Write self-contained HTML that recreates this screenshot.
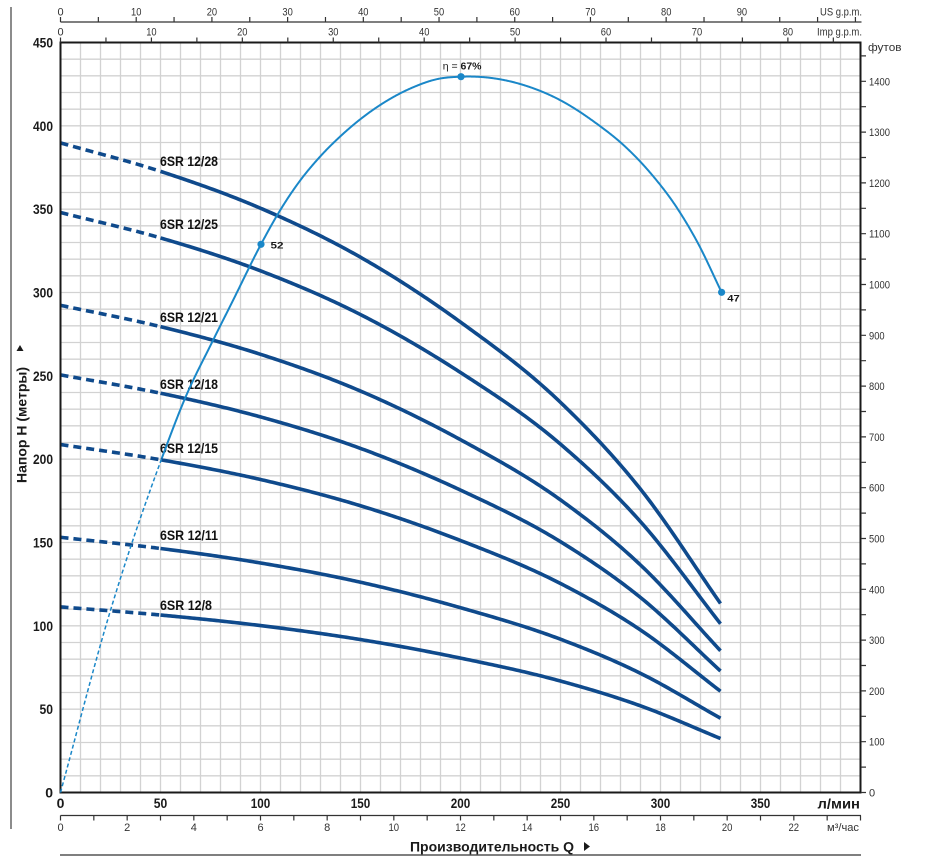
<!DOCTYPE html>
<html><head><meta charset="utf-8"><style>
html,body{margin:0;padding:0;background:#fff;width:934px;height:859px;overflow:hidden}
svg{display:block}
.t{font-family:"Liberation Sans",Arial,sans-serif;fill:#333;font-size:11px}
.b{font-family:"Liberation Sans",Arial,sans-serif;fill:#1a1a1a;font-size:14px;font-weight:bold}
.lb{font-family:"Liberation Sans",Arial,sans-serif;fill:#111;font-size:13.5px;font-weight:bold}
</style></head><body>
<svg id="c" width="934" height="859" viewBox="0 0 934 859" xmlns="http://www.w3.org/2000/svg">
<rect width="934" height="859" fill="#fff"/>
<!-- grid -->
<path stroke="#d2d2d2" stroke-width="1.3" fill="none" d="
M80.5 42.5V792.5M100.5 42.5V792.5M120.5 42.5V792.5M140.5 42.5V792.5M160.5 42.5V792.5M180.5 42.5V792.5M200.5 42.5V792.5M220.5 42.5V792.5M240.5 42.5V792.5M260.5 42.5V792.5
M280.5 42.5V792.5M300.5 42.5V792.5M320.5 42.5V792.5M340.5 42.5V792.5M360.5 42.5V792.5M380.5 42.5V792.5M400.5 42.5V792.5M420.5 42.5V792.5M440.5 42.5V792.5M460.5 42.5V792.5
M480.5 42.5V792.5M500.5 42.5V792.5M520.5 42.5V792.5M540.5 42.5V792.5M560.5 42.5V792.5M580.5 42.5V792.5M600.5 42.5V792.5M620.5 42.5V792.5M640.5 42.5V792.5M660.5 42.5V792.5
M680.5 42.5V792.5M700.5 42.5V792.5M720.5 42.5V792.5M740.5 42.5V792.5M760.5 42.5V792.5M780.5 42.5V792.5M800.5 42.5V792.5M820.5 42.5V792.5M840.5 42.5V792.5
M60.5 59.17H860.5M60.5 75.83H860.5M60.5 92.5H860.5M60.5 109.17H860.5M60.5 125.83H860.5M60.5 142.5H860.5M60.5 159.17H860.5M60.5 175.83H860.5M60.5 192.5H860.5M60.5 209.17H860.5
M60.5 225.83H860.5M60.5 242.5H860.5M60.5 259.17H860.5M60.5 275.83H860.5M60.5 292.5H860.5M60.5 309.17H860.5M60.5 325.83H860.5M60.5 342.5H860.5M60.5 359.17H860.5M60.5 375.83H860.5
M60.5 392.5H860.5M60.5 409.17H860.5M60.5 425.83H860.5M60.5 442.5H860.5M60.5 459.17H860.5M60.5 475.83H860.5M60.5 492.5H860.5M60.5 509.17H860.5M60.5 525.83H860.5M60.5 542.5H860.5
M60.5 559.17H860.5M60.5 575.83H860.5M60.5 592.5H860.5M60.5 609.17H860.5M60.5 625.83H860.5M60.5 642.5H860.5M60.5 659.17H860.5M60.5 675.83H860.5M60.5 692.5H860.5M60.5 709.17H860.5
M60.5 725.83H860.5M60.5 742.5H860.5M60.5 759.17H860.5M60.5 775.83H860.5"/>

<!-- left outer line -->
<path d="M11 7V829" stroke="#666" stroke-width="1.5"/>

<!-- curves container -->
<g id="curves"></g>

<!-- frame -->
<rect x="60.5" y="42.5" width="800" height="750" fill="none" stroke="#1a1a1a" stroke-width="2"/>

<!-- top US axis -->
<path stroke="#333" stroke-width="1.2" fill="none" d="M60.5 22H861.5
M60.5 17V22M98.35 17V22M136.21 17V22M174.06 17V22M211.92 17V22M249.77 17V22M287.62 17V22M325.48 17V22M363.33 17V22M401.19 17V22M439.04 17V22M476.89 17V22M514.75 17V22M552.6 17V22M590.46 17V22M628.31 17V22M666.16 17V22M704.02 17V22M741.87 17V22M779.73 17V22M817.58 17V22M855.43 17V22"/>
<g class="t" text-anchor="middle">
<text x="60.5" y="15.5">0</text>
<text x="136.2" y="15.5" textLength="10.4" lengthAdjust="spacingAndGlyphs">10</text>
<text x="211.9" y="15.5" textLength="10.4" lengthAdjust="spacingAndGlyphs">20</text>
<text x="287.6" y="15.5" textLength="10.4" lengthAdjust="spacingAndGlyphs">30</text>
<text x="363.3" y="15.5" textLength="10.4" lengthAdjust="spacingAndGlyphs">40</text>
<text x="439.0" y="15.5" textLength="10.4" lengthAdjust="spacingAndGlyphs">50</text>
<text x="514.7" y="15.5" textLength="10.4" lengthAdjust="spacingAndGlyphs">60</text>
<text x="590.5" y="15.5" textLength="10.4" lengthAdjust="spacingAndGlyphs">70</text>
<text x="666.2" y="15.5" textLength="10.4" lengthAdjust="spacingAndGlyphs">80</text>
<text x="741.9" y="15.5" textLength="10.4" lengthAdjust="spacingAndGlyphs">90</text>
</g>
<text class="t" x="820" y="15.5" textLength="42" lengthAdjust="spacingAndGlyphs">US g.p.m.</text>

<!-- top Imp axis -->
<path stroke="#333" stroke-width="1.2" fill="none" d="
M60.5 37.5V42.5M105.96 37.5V42.5M151.42 37.5V42.5M196.88 37.5V42.5M242.34 37.5V42.5M287.81 37.5V42.5M333.27 37.5V42.5M378.73 37.5V42.5M424.19 37.5V42.5M469.65 37.5V42.5M515.11 37.5V42.5M560.57 37.5V42.5M606.03 37.5V42.5M651.49 37.5V42.5M696.95 37.5V42.5M742.42 37.5V42.5M787.88 37.5V42.5M833.34 37.5V42.5"/>
<g class="t" text-anchor="middle">
<text x="60.5" y="35.5">0</text>
<text x="151.4" y="35.5" textLength="10.4" lengthAdjust="spacingAndGlyphs">10</text>
<text x="242.3" y="35.5" textLength="10.4" lengthAdjust="spacingAndGlyphs">20</text>
<text x="333.3" y="35.5" textLength="10.4" lengthAdjust="spacingAndGlyphs">30</text>
<text x="424.2" y="35.5" textLength="10.4" lengthAdjust="spacingAndGlyphs">40</text>
<text x="515.1" y="35.5" textLength="10.4" lengthAdjust="spacingAndGlyphs">50</text>
<text x="606.0" y="35.5" textLength="10.4" lengthAdjust="spacingAndGlyphs">60</text>
<text x="697.0" y="35.5" textLength="10.4" lengthAdjust="spacingAndGlyphs">70</text>
<text x="787.9" y="35.5" textLength="10.4" lengthAdjust="spacingAndGlyphs">80</text>
</g>
<text class="t" x="817" y="35.5" textLength="45" lengthAdjust="spacingAndGlyphs">Imp g.p.m.</text>

<!-- right feet axis -->
<path stroke="#333" stroke-width="1.2" fill="none" d="
M861 792.5H866M861 767.1H866M861 741.7H866M861 716.3H866M861 690.9H866M861 665.5H866M861 640.1H866M861 614.7H866M861 589.3H866M861 563.9H866
M861 538.5H866M861 513.1H866M861 487.7H866M861 462.3H866M861 436.9H866M861 411.5H866M861 386.1H866M861 360.7H866M861 335.3H866M861 309.9H866
M861 284.5H866M861 259.1H866M861 233.7H866M861 208.3H866M861 182.9H866M861 157.5H866M861 132.1H866M861 106.7H866M861 81.3H866M861 55.9H866"/>
<g class="t" font-size="11">
<text x="869" y="796.5">0</text>
<text x="869" y="745.7" textLength="15.6" lengthAdjust="spacingAndGlyphs">100</text>
<text x="869" y="694.9" textLength="15.6" lengthAdjust="spacingAndGlyphs">200</text>
<text x="869" y="644.1" textLength="15.6" lengthAdjust="spacingAndGlyphs">300</text>
<text x="869" y="593.3" textLength="15.6" lengthAdjust="spacingAndGlyphs">400</text>
<text x="869" y="542.5" textLength="15.6" lengthAdjust="spacingAndGlyphs">500</text>
<text x="869" y="491.7" textLength="15.6" lengthAdjust="spacingAndGlyphs">600</text>
<text x="869" y="440.9" textLength="15.6" lengthAdjust="spacingAndGlyphs">700</text>
<text x="869" y="390.1" textLength="15.6" lengthAdjust="spacingAndGlyphs">800</text>
<text x="869" y="339.3" textLength="15.6" lengthAdjust="spacingAndGlyphs">900</text>
<text x="869" y="288.5" textLength="21" lengthAdjust="spacingAndGlyphs">1000</text>
<text x="869" y="237.7" textLength="21" lengthAdjust="spacingAndGlyphs">1100</text>
<text x="869" y="186.9" textLength="21" lengthAdjust="spacingAndGlyphs">1200</text>
<text x="869" y="136.1" textLength="21" lengthAdjust="spacingAndGlyphs">1300</text>
<text x="869" y="85.3" textLength="21" lengthAdjust="spacingAndGlyphs">1400</text>
</g>
<text class="t" x="868" y="51" font-size="12.5" textLength="33.5" lengthAdjust="spacingAndGlyphs">футов</text>

<!-- left y labels -->
<g class="b" text-anchor="end">
<text x="53" y="797.5">0</text>
<text x="53" y="714.2" textLength="13.5" lengthAdjust="spacingAndGlyphs">50</text>
<text x="53" y="630.8" textLength="20" lengthAdjust="spacingAndGlyphs">100</text>
<text x="53" y="547.5" textLength="20" lengthAdjust="spacingAndGlyphs">150</text>
<text x="53" y="464.2" textLength="20" lengthAdjust="spacingAndGlyphs">200</text>
<text x="53" y="380.8" textLength="20" lengthAdjust="spacingAndGlyphs">250</text>
<text x="53" y="297.5" textLength="20" lengthAdjust="spacingAndGlyphs">300</text>
<text x="53" y="214.2" textLength="20" lengthAdjust="spacingAndGlyphs">350</text>
<text x="53" y="130.8" textLength="20" lengthAdjust="spacingAndGlyphs">400</text>
<text x="53" y="47.5" textLength="20" lengthAdjust="spacingAndGlyphs">450</text>
</g>

<!-- bottom l/min labels -->
<g class="b" text-anchor="middle">
<text x="60.5" y="808">0</text>
<text x="160.5" y="808" textLength="13.5" lengthAdjust="spacingAndGlyphs">50</text>
<text x="260.5" y="808" textLength="19.5" lengthAdjust="spacingAndGlyphs">100</text>
<text x="360.5" y="808" textLength="19.5" lengthAdjust="spacingAndGlyphs">150</text>
<text x="460.5" y="808" textLength="19.5" lengthAdjust="spacingAndGlyphs">200</text>
<text x="560.5" y="808" textLength="19.5" lengthAdjust="spacingAndGlyphs">250</text>
<text x="660.5" y="808" textLength="19.5" lengthAdjust="spacingAndGlyphs">300</text>
<text x="760.5" y="808" textLength="19.5" lengthAdjust="spacingAndGlyphs">350</text>
</g>
<text class="b" x="817.5" y="808.5" textLength="42.5" lengthAdjust="spacingAndGlyphs">л/мин</text>

<!-- m3/h axis -->
<path stroke="#333" stroke-width="1.2" fill="none" d="M60.5 815.5H861
M60.5 815.5V820.5M93.83 815.5V820.5M127.17 815.5V820.5M160.5 815.5V820.5M193.83 815.5V820.5M227.17 815.5V820.5M260.5 815.5V820.5M293.83 815.5V820.5M327.17 815.5V820.5M360.5 815.5V820.5
M393.83 815.5V820.5M427.17 815.5V820.5M460.5 815.5V820.5M493.83 815.5V820.5M527.17 815.5V820.5M560.5 815.5V820.5M593.83 815.5V820.5M627.17 815.5V820.5M660.5 815.5V820.5M693.83 815.5V820.5
M727.17 815.5V820.5M760.5 815.5V820.5M793.83 815.5V820.5M827.17 815.5V820.5M860.5 815.5V820.5"/>
<g class="t" text-anchor="middle">
<text x="60.5" y="831">0</text>
<text x="127.2" y="831">2</text>
<text x="193.8" y="831">4</text>
<text x="260.5" y="831">6</text>
<text x="327.2" y="831">8</text>
<text x="393.8" y="831" textLength="10.6" lengthAdjust="spacingAndGlyphs">10</text>
<text x="460.5" y="831" textLength="10.6" lengthAdjust="spacingAndGlyphs">12</text>
<text x="527.2" y="831" textLength="10.6" lengthAdjust="spacingAndGlyphs">14</text>
<text x="593.8" y="831" textLength="10.6" lengthAdjust="spacingAndGlyphs">16</text>
<text x="660.5" y="831" textLength="10.6" lengthAdjust="spacingAndGlyphs">18</text>
<text x="727.2" y="831" textLength="10.6" lengthAdjust="spacingAndGlyphs">20</text>
<text x="793.8" y="831" textLength="10.6" lengthAdjust="spacingAndGlyphs">22</text>
</g>
<text class="t" x="827" y="831" textLength="32" lengthAdjust="spacingAndGlyphs">м³/час</text>

<!-- bottom title -->
<text class="b" x="410" y="851.5" font-size="15" textLength="164" lengthAdjust="spacingAndGlyphs">Производительность Q</text>
<polygon points="584,842 590,846.5 584,851" fill="#1a1a1a"/>
<path d="M60 855H861" stroke="#555" stroke-width="1.5"/>

<!-- left title -->
<text class="b" font-size="15" transform="translate(26.5,483) rotate(-90)" textLength="116" lengthAdjust="spacingAndGlyphs">Напор H (метры)</text>
<polygon points="20,345 23.5,351 16.5,351" fill="#1a1a1a"/>

<!-- curve labels -->
<g class="lb">
<text x="160" y="166" textLength="58" lengthAdjust="spacingAndGlyphs">6SR 12/28</text>
<text x="160" y="229" textLength="58" lengthAdjust="spacingAndGlyphs">6SR 12/25</text>
<text x="160" y="322" textLength="58" lengthAdjust="spacingAndGlyphs">6SR 12/21</text>
<text x="160" y="389" textLength="58" lengthAdjust="spacingAndGlyphs">6SR 12/18</text>
<text x="160" y="453" textLength="58" lengthAdjust="spacingAndGlyphs">6SR 12/15</text>
<text x="160" y="540" textLength="58" lengthAdjust="spacingAndGlyphs">6SR 12/11</text>
<text x="160" y="610" textLength="52" lengthAdjust="spacingAndGlyphs">6SR 12/8</text>
</g>

<g id="eff"></g>

<!-- efficiency labels -->
<g font-family="Liberation Sans, Arial, sans-serif" fill="#1a1a1a">
<text x="270.5" y="248.5" font-size="9.5" font-weight="bold" textLength="13" lengthAdjust="spacingAndGlyphs">52</text>
<text x="727.3" y="301.7" font-size="9.5" font-weight="bold" textLength="12.5" lengthAdjust="spacingAndGlyphs">47</text>
<text x="442.7" y="69.5" font-size="10.5">η = <tspan font-weight="bold">67%</tspan></text>
</g>
</svg>
<script>
(function(){
var NS='http://www.w3.org/2000/svg';
function slopes(xs,ys){var n=xs.length,d=[],m=[];for(var i=0;i<n-1;i++)d.push((ys[i+1]-ys[i])/(xs[i+1]-xs[i]));m[0]=d[0];m[n-1]=d[n-2];for(var i=1;i<n-1;i++){var h0=xs[i]-xs[i-1],h1=xs[i+1]-xs[i];m[i]=(d[i-1]*h1+d[i]*h0)/(h0+h1);}return m;}
function interp(xs,ys,m,x){var i=0;while(i<xs.length-2&&x>xs[i+1])i++;var h=xs[i+1]-xs[i],t=(x-xs[i])/h,t2=t*t,t3=t2*t;return (2*t3-3*t2+1)*ys[i]+(t3-2*t2+t)*h*m[i]+(-2*t3+3*t2)*ys[i+1]+(t3-t2)*h*m[i+1];}
function mk(tag,attrs,parent){var e=document.createElementNS(NS,tag);for(var k in attrs)e.setAttribute(k,attrs[k]);parent.appendChild(e);return e;}
var tq=[0,50,100,150,200,250,290,330], th=[13.92,13.31,12.52,11.47,10.08,8.36,6.50,4.05];
var ms=slopes(tq,th);
var stages=[28,25,21,18,15,11,8];
var g=document.getElementById('curves');
var col='#0f4a8c';
stages.forEach(function(n){
  var d='';
  for(var q=0;q<=50;q+=1){var x=60.5+2*q,y=792.5-n*interp(tq,th,ms,q)*5/3;d+=(q?'L':'M')+x.toFixed(2)+' '+y.toFixed(2);}
  mk('path',{d:d,fill:'none',stroke:col,'stroke-width':'3.6','stroke-dasharray':'8 5'},g);
  var s='';
  for(var q=50;q<=330;q+=1){var x=60.5+2*q,y=792.5-n*interp(tq,th,ms,q)*5/3;s+=(q>50?'L':'M')+x.toFixed(2)+' '+y.toFixed(2);}
  mk('path',{d:s,fill:'none',stroke:col,'stroke-width':'3.6','stroke-linejoin':'round'},g);
});
var ex=[60.5,110,161.8,185.4,212.7,232.7,261,276.3,298.1,320,341.8,363.6,385.4,414.5,436.3,461,487.2,523.5,559.9,596.2,625.3,650.7,676.2,698,721.6];
var ey=[792.5,612,458.3,397.5,341,301,244.3,216.7,183.3,156.7,135,116.7,101.7,86.7,79.3,76.7,77.5,85,100,123.3,146.7,173.3,206.7,243.3,292.3];
var em=slopes(ex,ey);
var ge=document.getElementById('eff');
var ecol='#1a87c8';
var d='';var first=true;
for(var x=60.5;x<=161.8;x+=0.5){var y=interp(ex,ey,em,x);d+=(first?'M':'L')+x.toFixed(2)+' '+y.toFixed(2);first=false;}
mk('path',{d:d,fill:'none',stroke:ecol,'stroke-width':'1.5','stroke-dasharray':'4 2.5'},ge);
d='';first=true;
for(var x=161.8;x<=721.6;x+=0.5){var y=interp(ex,ey,em,x);d+=(first?'M':'L')+x.toFixed(2)+' '+y.toFixed(2);first=false;}
d+='L721.6 292.3';
mk('path',{d:d,fill:'none',stroke:ecol,'stroke-width':'2','stroke-linejoin':'round'},ge);
mk('circle',{cx:'261',cy:'244.3',r:'3.6',fill:ecol},ge);
mk('circle',{cx:'461',cy:'76.7',r:'3.6',fill:ecol},ge);
mk('circle',{cx:'721.6',cy:'292.3',r:'3.6',fill:ecol},ge);
})();
</script>
</body></html>
